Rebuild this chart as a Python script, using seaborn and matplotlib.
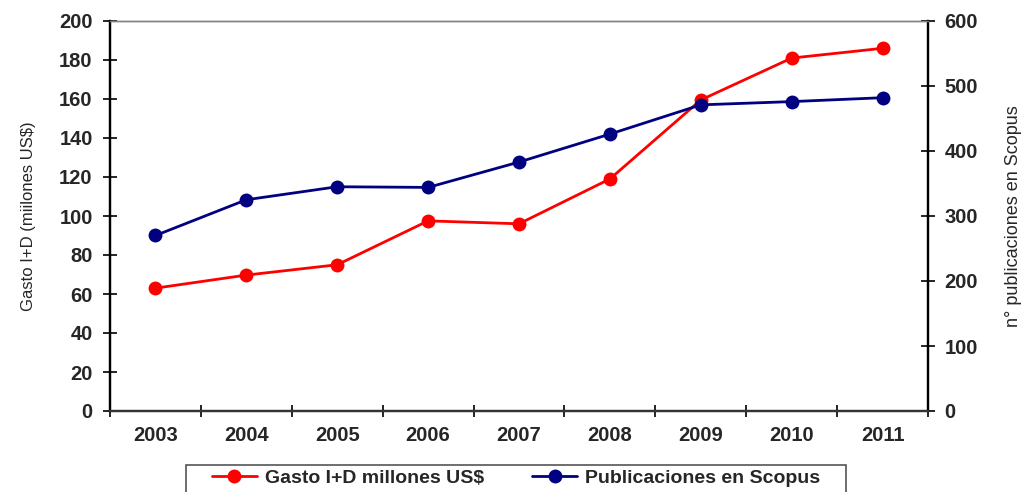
import matplotlib
matplotlib.use("Agg")
import matplotlib.pyplot as plt
import seaborn as sns
import pandas as pd
import numpy as np
from matplotlib.lines import Line2D
from matplotlib.patches import Rectangle

years = ["2003", "2004", "2005", "2006", "2007", "2008", "2009", "2010", "2011"]
gasto = [63, 69.7, 75, 97.5, 96, 119, 159.5, 181, 186]
publicaciones = [270, 325, 345, 344, 383, 426, 471, 476, 482]

sns.set_theme(style="white")
plt.rcParams['font.family'] = ['Liberation Sans', 'DejaVu Sans']

df = pd.DataFrame({"year": years, "gasto": gasto, "pub": publicaciones})
df["x"] = np.arange(len(years))

fig = plt.figure(figsize=(10.24, 4.92), dpi=100)
ax = fig.add_axes([110/1024, 81/492, 818/1024, 390/492])
ax2 = ax.twinx()

red = "#FF0000"
navy = "#000080"
sns.lineplot(data=df, x="x", y="gasto", ax=ax, color=red, marker="o", markersize=10,
             markeredgewidth=0, linewidth=2, legend=False)
sns.lineplot(data=df, x="x", y="pub", ax=ax2, color=navy, marker="o", markersize=10,
             markeredgewidth=0, linewidth=2, legend=False)

ax.set_xlim(-0.5, len(years) - 0.5)
ax.set_ylim(0, 200)
ax2.set_ylim(0, 600)
ax.set_yticks(np.arange(0, 201, 20))
ax2.set_yticks(np.arange(0, 601, 100))
ax.set_xticks(df["x"])
ax.set_xticklabels(years)
ax.set_xticks(np.arange(-0.5, len(years), 1), minor=True)

for a in (ax, ax2):
    for s in a.spines.values():
        s.set_visible(True)
    a.spines["left"].set_color("black")
    a.spines["right"].set_color("black")
    a.spines["left"].set_linewidth(1.6)
    a.spines["right"].set_linewidth(1.6)
    a.spines["top"].set_color("#808080")
    a.spines["top"].set_linewidth(1.0)
    a.spines["bottom"].set_color("#333333")
    a.spines["bottom"].set_linewidth(1.6)
    a.grid(False)

ax.tick_params(axis="y", which="major", direction="inout", length=10, width=1.2,
               color="black", labelsize=14.5, pad=7.5, left=True)
ax.tick_params(axis="x", which="major", length=0, labelsize=14.5, pad=11)
ax.tick_params(axis="x", which="minor", direction="inout", length=9, width=1.2,
               color="black", bottom=True)
ax2.tick_params(axis="y", which="major", direction="inout", length=10, width=1.2,
                color="black", labelsize=14.5, pad=7, right=True)
for lbl in ax.get_yticklabels() + ax.get_xticklabels() + ax2.get_yticklabels():
    lbl.set_fontweight("bold")

ax.set_xlabel("")
ax.set_ylabel("Gasto I+D (miilones US$)", fontsize=12, labelpad=17)
ax2.set_ylabel("n° publicaciones en Scopus", fontsize=13, labelpad=19)

# legend frame
fig.patches.append(Rectangle((186/1024, -0.02), 660/1024, (492-465)/492 + 0.02,
                             transform=fig.transFigure, fill=False,
                             edgecolor="#555555", linewidth=1.2))

handles = [
    Line2D([0], [0], color=red, marker="o", markersize=10, markeredgewidth=0, linewidth=2),
    Line2D([0], [0], color=navy, marker="o", markersize=10, markeredgewidth=0, linewidth=2),
]
leg = fig.legend(handles, ["Gasto I+D millones US$", "Publicaciones en Scopus"],
                 loc="center", bbox_to_anchor=(516/1024, 1 - 478/492), ncol=2,
                 frameon=False, prop={"weight": "bold", "size": 14},
                 columnspacing=2.5, handlelength=2.3, handletextpad=0.4,
                 borderpad=0.0, borderaxespad=0.0)

fig.savefig("out.png", dpi=100)
